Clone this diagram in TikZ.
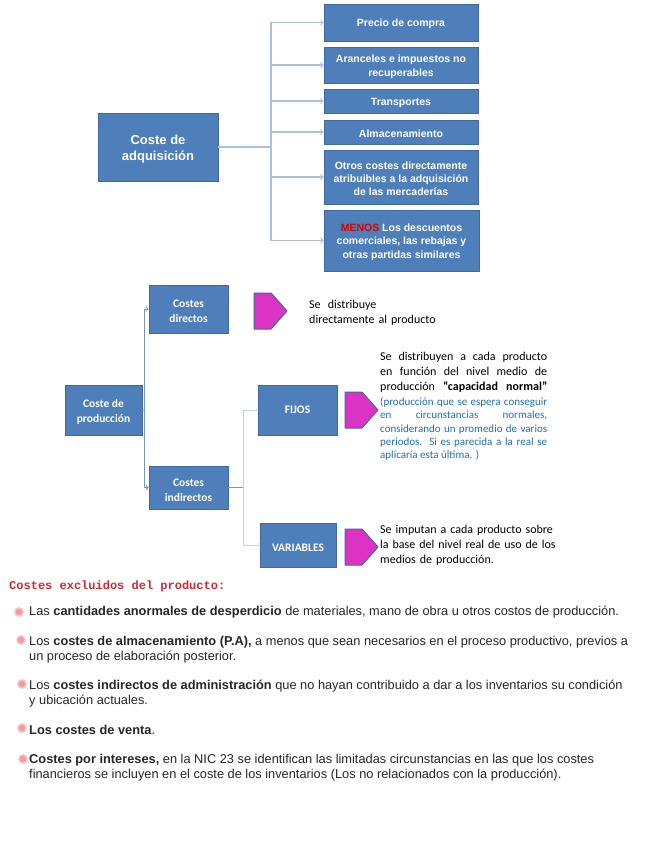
\documentclass[tikz,border=0pt]{standalone}
\usepackage{fontspec}
\setmainfont{Liberation Sans}
\newfontfamily\cuerpo{Carlito}
\newfontfamily\titulo{Liberation Mono}
\newcommand{\alto}{\rule{0pt}{1.05em}}
\definecolor{azulcaja}{HTML}{4F7FBA}
\definecolor{azulborde}{HTML}{3F6A9E}
\definecolor{azulflecha}{HTML}{A9C2DF}
\definecolor{azulnota}{HTML}{1F6DB5}
\definecolor{magenta}{HTML}{DD33C4}
\definecolor{rosa}{HTML}{F29A9F}
\definecolor{rojotitulo}{HTML}{E0242C}
\tikzset{
	caja/.style={draw=azulborde, fill=azulcaja, line width=0.7pt, inner sep=1pt, text=white, align=center, font=\fontsize{10.5}{13.2}\selectfont\bfseries},
	cajados/.style={caja, font=\cuerpo\fontsize{11.5}{15}\selectfont\bfseries},
	rama/.style={draw=azulflecha, line width=1.2pt},
	ramados/.style={draw=azulborde!70, line width=1pt},
	ramafina/.style={draw=azulflecha!70, line width=0.5pt},
	penta/.style={draw=azulborde, fill=magenta, line width=1pt, line join=round},
	nota/.style={inner sep=0pt, anchor=north west, font=\cuerpo\fontsize{12}{15}\selectfont},
	linea/.style={inner sep=0pt, anchor=base west, font=\fontsize{12.8}{14}\selectfont, text=black!85}
}
\begin{document}
\begin{tikzpicture}[x=1pt,y=-1pt]
	\useasboundingbox (0,0) rectangle (655,848);
	
	% Coste de adquisicion
	\node[caja, minimum width=120pt, minimum height=68pt, font=\fontsize{13}{16}\selectfont\bfseries] (adquisicion) at (158,147) {\alto Coste de\\adquisición};
	\node[caja, minimum width=154pt, minimum height=37pt] (precio) at (401,22.5) {\alto Precio de compra};
	\node[caja, minimum width=154pt, minimum height=36pt] (aranceles) at (401,65) {\alto Aranceles e impuestos no\\recuperables};
	\node[caja, minimum width=154pt, minimum height=24pt] (transportes) at (401,101) {\alto Transportes};
	\node[caja, minimum width=154pt, minimum height=24pt] (almacen) at (401,132) {\alto Almacenamiento};
	\node[caja, minimum width=154pt, minimum height=54pt] (otros) at (401,177) {\alto Otros costes directamente\\atribuibles a la adquisición\\de las mercaderías};
	\node[caja, minimum width=155pt, minimum height=61pt] (menos) at (401.5,240.5) {\alto\textcolor{red!85!black}{MENOS} Los descuentos\\comerciales, las rebajas y\\otras partidas similares};
	
	\coordinate (tronco) at (271,147);
	\draw[rama] (adquisicion.east) -- (tronco);
	\foreach \dest in {precio,aranceles,transportes,almacen,otros,menos}
		\draw[rama, ->] (tronco) |- (\dest.west);
	
	% Coste de produccion
	\node[cajados, minimum width=77pt, minimum height=50pt] (produccion) at (103.5,410) {\alto Coste de\\producción};
	\node[cajados, minimum width=79pt, minimum height=48pt] (directos) at (188.5,309) {\alto Costes\\directos};
	\node[cajados, minimum width=79pt, minimum height=43pt] (indirectos) at (188.5,487.5) {\alto Costes\\indirectos};
	\node[cajados, minimum width=79pt, minimum height=50pt] (fijos) at (297.5,410) {FIJOS};
	\node[cajados, minimum width=76pt, minimum height=44pt] (variables) at (298,545) {\alto VARIABLES};
	
	\coordinate (troncodos) at (144,410);
	\coordinate (troncotres) at (243,487.5);
	\draw[ramados] (produccion.east) -- (troncodos);
	\draw[ramados, ->] (troncodos) |- (directos.west);
	\draw[ramados, ->] (troncodos) |- (indirectos.west);
	\draw[ramados] (indirectos.east) -- (troncotres);
	\draw[ramafina, ->] (troncotres) |- (fijos.west);
	\draw[ramafina, ->] (troncotres) |- (variables.west);
	
	\foreach \px/\py in {254/293, 345/392, 345/529}
		\draw[penta] (\px,\py) -- ++(17,0) -- ++(16,18) -- ++(-16,18) -- ++(-17,0) -- cycle;
	
	% Notas
	\node[nota, text width=130pt, align=left] (notauno) at (309,299.5) {Se\hspace{0.6em}distribuye\\directamente al producto};
	\node[nota, text width=167pt, align=justify] (notados) at (380,351.5) {Se distribuyen a cada producto\linebreak
		en función del nivel medio de\linebreak
		\makebox[\linewidth][s]{producción \textbf{“capacidad normal”}}};
	\node[nota, text width=167pt, align=justify, text=azulnota, font=\cuerpo\fontsize{11}{13.2}\selectfont] (notatres) at (380,397.5) {(producción que se espera conseguir\linebreak
		en circunstancias normales,\linebreak
		considerando un promedio de varios\linebreak
		periodos. Si es parecida a la real se\linebreak
		aplicaría esta última. )};
	\node[nota, text width=180pt, align=left] (notacuatro) at (380,524.5) {Se imputan a cada producto sobre\\la base del nivel real de uso de los\\medios de producción.};
	
	% Costes excluidos
	\node[inner sep=0pt, anchor=base west, text=rojotitulo, font=\titulo\fontsize{12}{14}\selectfont\bfseries] (excluidos) at (9,589) {Costes excluidos del producto:};
	
	\foreach \px/\py in {19/612, 21/640, 22/684, 22/728, 23/759}{
		\fill[rosa!55] (\px,\py) circle (5pt);
		\fill[rosa] (\px,\py) circle (3.2pt);
	}
	
	\node[linea] (uno) at (29,615) {Las \textbf{cantidades anormales de desperdicio} de materiales, mano de obra u otros costos de producción.};
	\node[linea] (dos) at (29,645) {Los \textbf{costes de almacenamiento (P.A),} a menos que sean necesarios en el proceso productivo, previos a};
	\node[linea] (dosb) at (29,660) {un proceso de elaboración posterior.};
	\node[linea] (tres) at (29,689) {Los \textbf{costes indirectos de administración} que no hayan contribuido a dar a los inventarios su condición};
	\node[linea] (tresb) at (29,704) {y ubicación actuales.};
	\node[linea] (cuatro) at (29,734) {\textbf{Los costes de venta}.};
	\node[linea] (cinco) at (29,763) {\textbf{Costes por intereses,} en la NIC 23 se identifican las limitadas circunstancias en las que los costes};
	\node[linea] (cincob) at (29,778) {financieros se incluyen en el coste de los inventarios (Los no relacionados con la producción).};
\end{tikzpicture}
\end{document}
